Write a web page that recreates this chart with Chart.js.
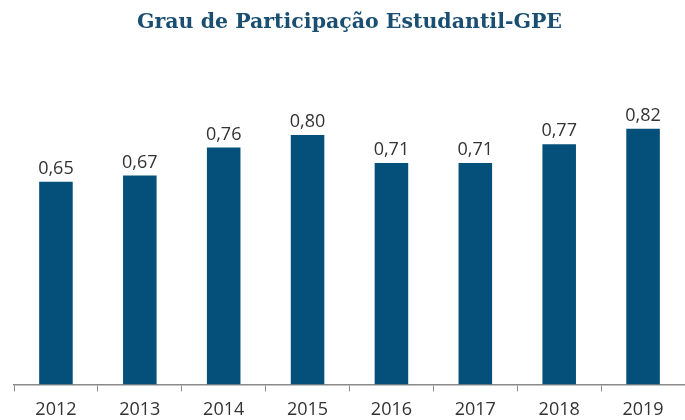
<!DOCTYPE html>
<html>
<head>
<meta charset="utf-8">
<script src="https://cdn.jsdelivr.net/npm/chart.js@4"></script>
<style>
  html, body { margin: 0; padding: 0; background: #fff; }
  #wrap { width: 685px; height: 420px; }
</style>
</head>
<body>
<div id="wrap"><canvas id="myChart"></canvas></div>
<script>
// Chart data
const years = ['2012', '2013', '2014', '2015', '2016', '2017', '2018', '2019'];
const gpe = [0.65, 0.67, 0.76, 0.80, 0.71, 0.71, 0.77, 0.82];

// draws the value above each bar, with a decimal comma
const valueLabels = {
    id: 'valueLabels',
    afterDatasetsDraw(chart) {
        const ctx = chart.ctx;
        ctx.save();
        ctx.font = '18px "Open Sans", sans-serif';
        ctx.fillStyle = '#333';
        ctx.textAlign = 'center';
        ctx.textBaseline = 'bottom';
        chart.getDatasetMeta(0).data.forEach((bar, i) => {
            ctx.fillText(gpe[i].toFixed(2).replace('.', ','), bar.x, bar.y - 4);
        });
        ctx.restore();
    }
};

const ctx = document.getElementById('myChart').getContext('2d');
const myChart = new Chart(ctx, {
    type: 'bar',
    data: {
        labels: years,
        datasets: [{
            label: 'GPE',
            data: gpe,
            backgroundColor: '#04507A',
            barPercentage: 0.4,
            categoryPercentage: 1.0,
        }],
    },
    options: {
        responsive: true,
        maintainAspectRatio: false,
        animation: false,
        layout: { padding: { left: 14, right: 0, top: 0, bottom: -9 } },
        plugins: {
            legend: { display: false },
            tooltip: { enabled: false },
            title: {
                display: true,
                text: 'Grau de Participação Estudantil-GPE',
                color: '#1B4F72',
                font: { family: '"DejaVu Serif", serif', size: 20.5, weight: 'bold' },
                padding: { top: 10, bottom: 38 },
            },
        },
        scales: {
            x: {
                offset: true,
                grid: {
                    display: true,
                    drawOnChartArea: false,
                    offset: true,
                    tickLength: 7,
                    color: '#8a8a8a',
                },
                border: { color: '#8a8a8a', width: 1.5 },
                ticks: {
                    color: '#333',
                    padding: 8,
                    font: { family: '"Open Sans", sans-serif', size: 18 },
                },
            },
            y: {
                display: false,
                min: 0,
                max: 1,
            },
        },
    },
    plugins: [valueLabels],
});
</script>
</body>
</html>
